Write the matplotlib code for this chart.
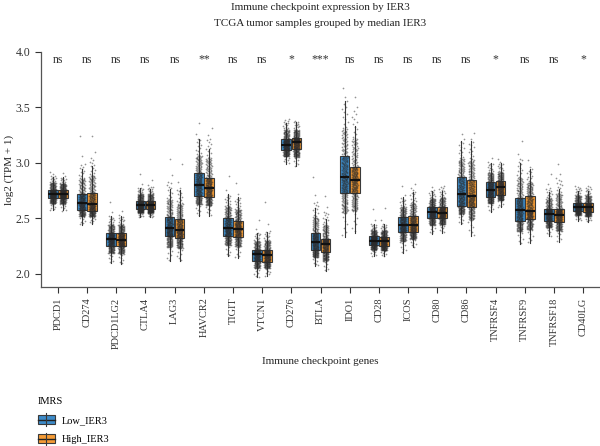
import numpy as np
import matplotlib
matplotlib.use("Agg")
import matplotlib.pyplot as plt
from matplotlib.patches import Rectangle
from matplotlib.lines import Line2D
from matplotlib.legend_handler import HandlerBase

plt.rcParams['font.family'] = ['Liberation Serif', 'DejaVu Serif']

# ---------------- data ----------------
genes = ["PDCD1", "CD274", "PDCD1LG2", "CTLA4", "LAG3", "HAVCR2", "TIGIT",
         "VTCN1", "CD276", "BTLA", "IDO1", "CD28", "ICOS", "CD80", "CD86",
         "TNFRSF4", "TNFRSF9", "TNFRSF18", "CD40LG"]
groups = ["Low_IER3", "High_IER3"]
sig = ["ns", "ns", "ns", "ns", "ns", "**", "ns", "ns", "*", "***",
       "ns", "ns", "ns", "ns", "ns", "*", "ns", "ns", "*"]

# Low_IER3 group: quartiles, median, lowest point, top of dense cloud, top outlier
low_q1 = [2.685, 2.579, 2.256, 2.585, 2.338, 2.706, 2.338, 2.118, 3.113, 2.214,
          2.727, 2.262, 2.374, 2.504, 2.612, 2.697, 2.473, 2.480, 2.570]
low_med = [2.721, 2.643, 2.314, 2.624, 2.410, 2.805, 2.410, 2.178, 3.165, 2.290,
           2.872, 2.300, 2.440, 2.555, 2.721, 2.760, 2.579, 2.540, 2.606]
low_q3 = [2.760, 2.724, 2.368, 2.661, 2.510, 2.911, 2.504, 2.217, 3.213, 2.365,
          3.059, 2.338, 2.516, 2.606, 2.872, 2.826, 2.685, 2.585, 2.640]
low_lo = [2.570, 2.440, 2.100, 2.510, 2.120, 2.525, 2.160, 1.966, 2.992, 2.072,
          2.330, 2.160, 2.190, 2.360, 2.450, 2.560, 2.270, 2.340, 2.480]
low_hi = [2.890, 3.000, 2.525, 2.780, 2.840, 3.230, 2.720, 2.375, 3.385, 2.660,
          3.570, 2.450, 2.690, 2.750, 3.200, 3.000, 3.050, 2.780, 2.780]
low_out = [2.930, 3.340, 2.690, 2.950, 3.110, 3.410, 2.940, 2.530, 3.400, 2.960,
           3.720, 2.630, 2.830, 2.800, 3.280, 3.060, 3.250, 2.950, 2.800]

# High_IER3 group
high_q1 = [2.685, 2.570, 2.256, 2.582, 2.320, 2.690, 2.330, 2.110, 3.122, 2.193,
           2.727, 2.253, 2.374, 2.504, 2.606, 2.715, 2.494, 2.465, 2.561]
high_med = [2.718, 2.630, 2.310, 2.621, 2.395, 2.775, 2.405, 2.170, 3.186, 2.270,
            2.848, 2.296, 2.440, 2.550, 2.703, 2.779, 2.570, 2.535, 2.600]
high_q3 = [2.760, 2.730, 2.368, 2.655, 2.495, 2.866, 2.480, 2.217, 3.225, 2.314,
           2.968, 2.335, 2.520, 2.600, 2.848, 2.835, 2.700, 2.585, 2.637]
high_lo = [2.565, 2.450, 2.090, 2.510, 2.120, 2.525, 2.140, 1.980, 2.970, 2.026,
           2.370, 2.160, 2.240, 2.370, 2.344, 2.600, 2.280, 2.290, 2.470]
high_hi = [2.870, 3.050, 2.520, 2.790, 2.780, 3.230, 2.690, 2.390, 3.370, 2.570,
           3.480, 2.450, 2.760, 2.780, 3.200, 3.000, 2.950, 2.870, 2.780]
high_out = [2.920, 3.310, 2.580, 2.870, 3.070, 3.350, 2.870, 2.740, 3.380, 2.750,
            3.640, 2.650, 2.830, 2.800, 3.300, 3.050, 3.050, 3.040, 2.800]

colors = ["#3D8BC9", "#F59B35"]

# ---------------- figure ----------------
fig = plt.figure(figsize=(6.0, 4.46), dpi=100)
ax = fig.add_axes([41 / 600, 1 - 287 / 446, 559 / 600, (287 - 52) / 446])

x = np.arange(len(genes))
offsets = [-0.172, 0.172]
box_w = 0.33
jit = 0.10
n_pts = 260
golden = (np.sqrt(5) - 1) / 2

stats = [
    (low_q1, low_med, low_q3, low_lo, low_hi, low_out),
    (high_q1, high_med, high_q3, high_lo, high_hi, high_out),
]

for g, (q1s, meds, q3s, los, his, outs) in enumerate(stats):
    for i in range(len(genes)):
        q1, med, q3, lo, hi, out = q1s[i], meds[i], q3s[i], los[i], his[i], outs[i]
        cx = x[i] + offsets[g]
        iqr = q3 - q1
        bstat = dict(med=med, q1=q1, q3=q3,
                     whislo=max(lo, q1 - 1.5 * iqr), whishi=min(hi, q3 + 1.5 * iqr),
                     fliers=[])
        ax.bxp([bstat], positions=[cx], widths=box_w, patch_artist=True,
               showfliers=False, showcaps=False,
               boxprops=dict(facecolor=colors[g], edgecolor="#3a3a3a", linewidth=0.8),
               whiskerprops=dict(color="#3a3a3a", linewidth=0.8),
               medianprops=dict(color="#111111", linewidth=1.6, zorder=6),
               manage_ticks=False, zorder=2)
        # jittered strip rendering the read quantiles (tails thinning out)
        p = (np.arange(n_pts) + 0.5) / n_pts
        vals = np.interp(p, [0, 0.025, 0.25, 0.5, 0.75, 0.95, 0.993, 1.0],
                         [lo, lo + 0.55 * (q1 - lo), q1, med, q3,
                          q3 + 0.5 * (hi - q3), hi, out])
        jx = ((np.arange(n_pts) * golden + 0.37 * g + 0.11 * i) % 1.0) * 2 - 1
        ax.scatter(cx + jx * jit, vals, s=1.5, c="#2b2b2b", alpha=0.5,
                   linewidths=0, zorder=4)

for i, s in enumerate(sig):
    ax.text(x[i], 3.93, s, ha="center", va="center", fontsize=8.5, color="#333333")

ax.set_xlim(-0.58, len(genes) - 0.42)
ax.set_ylim(1.882, 4.0)
ax.set_yticks([2.0, 2.5, 3.0, 3.5, 4.0])
ax.set_yticklabels(["2.0", "2.5", "3.0", "3.5", "4.0"])
ax.set_xticks(x)
ax.set_xticklabels(genes, rotation=90)
ax.tick_params(axis="x", labelsize=7.5, colors="#333333", length=4, width=0.8)
ax.tick_params(axis="y", labelsize=8.5, colors="#333333", length=4, width=0.8)
for side in ["top", "right"]:
    ax.spines[side].set_visible(False)
for side in ["left", "bottom"]:
    ax.spines[side].set_color("#555555")
    ax.spines[side].set_linewidth(0.9)
ax.set_ylabel("log2 (TPM + 1)", fontsize=8, color="#222222")
ax.yaxis.set_label_coords(-0.048, 0.5)

fig.text(320 / 600, 1 - 8 / 446, "Immune checkpoint expression by IER3",
         ha="center", va="center", fontsize=8, color="#222222")
fig.text(320 / 600, 1 - 23 / 446, "TCGA tumor samples grouped by median IER3",
         ha="center", va="center", fontsize=8, color="#222222")
fig.text(320 / 600, 1 - 362 / 446, "Immune checkpoint genes",
         ha="center", va="center", fontsize=8, color="#222222")


class BoxHandler(HandlerBase):
    def create_artists(self, legend, orig_handle, xdescent, ydescent, width,
                       height, fontsize, trans):
        fc = orig_handle.get_facecolor()
        r = Rectangle((-xdescent, -ydescent), width, height, facecolor=fc,
                      edgecolor="#3a3a3a", linewidth=0.8, transform=trans)
        h = Line2D([-xdescent, -xdescent + width],
                   [-ydescent + height / 2] * 2, color="#222222",
                   linewidth=1.0, transform=trans)
        v = Line2D([-xdescent + width / 2] * 2,
                   [-ydescent - 1, -ydescent + height + 1], color="#3a3a3a",
                   linewidth=0.8, transform=trans)
        return [r, h, v]


handles = [Rectangle((0, 0), 1, 1, facecolor=c) for c in colors]
leg = fig.legend(handles, groups, title="IMRS", loc="upper left",
                 bbox_to_anchor=(38 / 600, 1 - 397 / 446), frameon=False,
                 fontsize=7.5, title_fontsize=7.5, alignment="left",
                 handler_map={Rectangle: BoxHandler()}, handlelength=1.6,
                 handleheight=1.0, labelspacing=0.85, borderpad=0,
                 borderaxespad=0, handletextpad=0.7)

fig.savefig("out.png", dpi=100)
